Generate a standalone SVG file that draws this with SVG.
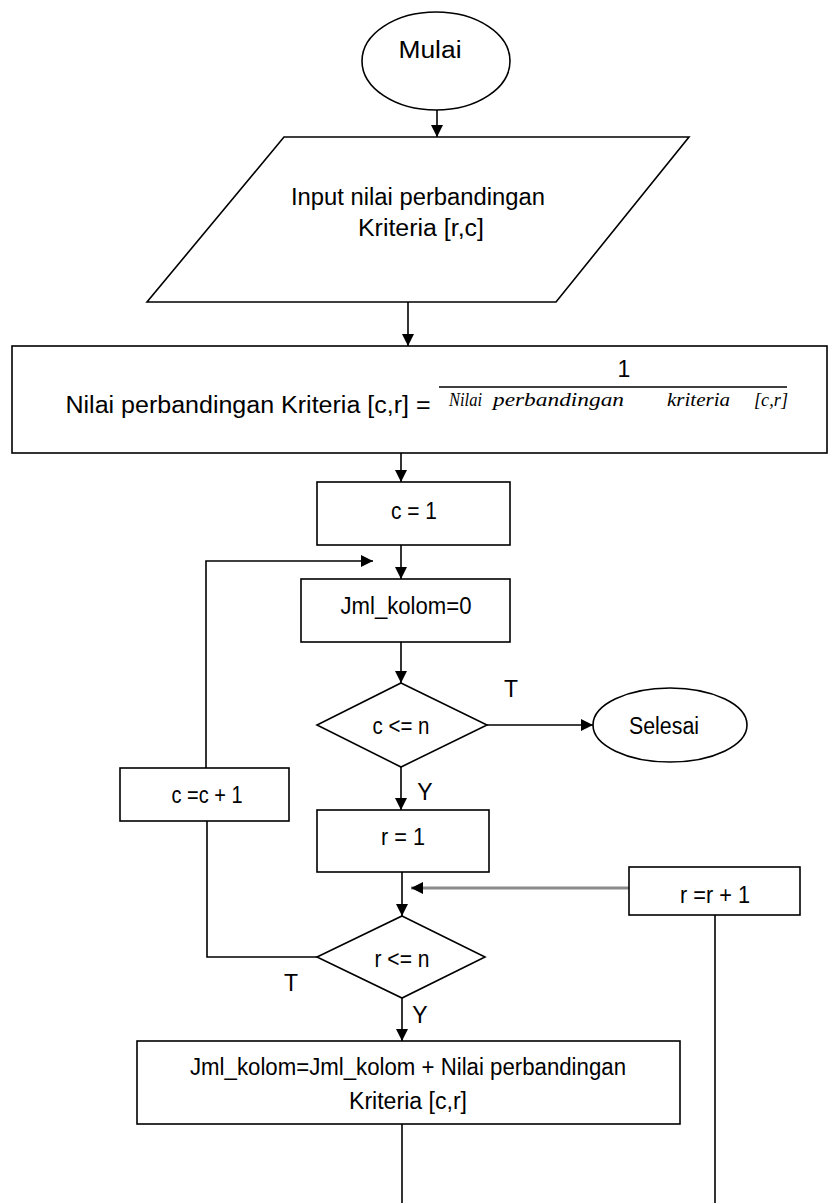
<svg xmlns="http://www.w3.org/2000/svg" width="828" height="1203" viewBox="0 0 828 1203">
<style>
.s{fill:#fff;stroke:#000;stroke-width:1.6}
.t{font-family:"Liberation Sans",Arial,sans-serif;font-size:23px;fill:#000;text-anchor:middle}
.m{font-family:"Liberation Serif","Times New Roman",serif;font-style:italic;font-size:19px;fill:#000}
.c{fill:none;stroke:#000;stroke-width:1.6}
.g{fill:none;stroke:#8a8a8a;stroke-width:3}
</style>
<defs>
<marker id="ah" markerUnits="userSpaceOnUse" markerWidth="12" markerHeight="12" viewBox="0 0 12 12" refX="12" refY="6" orient="auto">
<path d="M0,0 L12,6 L0,12 Z" fill="#000"/>
</marker>
</defs>
<rect width="828" height="1203" fill="#fff"/>
<g id="connectors">
<line class="c" x1="437" y1="110" x2="437" y2="137" marker-end="url(#ah)"/>
<line class="c" x1="408" y1="302" x2="408" y2="346" marker-end="url(#ah)"/>
<line class="c" x1="401" y1="453" x2="401" y2="482" marker-end="url(#ah)"/>
<line class="c" x1="401" y1="545" x2="401" y2="579" marker-end="url(#ah)"/>
<polyline class="c" points="206,768 206,561 373,561" marker-end="url(#ah)"/>
<line class="c" x1="401" y1="642" x2="401" y2="683" marker-end="url(#ah)"/>
<line class="c" x1="487" y1="725" x2="593" y2="725" marker-end="url(#ah)"/>
<line class="c" x1="401" y1="767" x2="401" y2="810" marker-end="url(#ah)"/>
<line class="c" x1="402" y1="872" x2="402" y2="916" marker-end="url(#ah)"/>
<line class="g" x1="629" y1="888" x2="411" y2="888" marker-end="url(#ah)"/>
<polyline class="c" points="317,957 207,957 207,821"/>
<line class="c" x1="402" y1="998" x2="402" y2="1041" marker-end="url(#ah)"/>
<line class="c" x1="402" y1="1124" x2="402" y2="1203"/>
<line class="c" x1="715" y1="915" x2="715" y2="1203"/>
</g>
<g id="mulai">
<ellipse class="s" cx="436" cy="61" rx="74" ry="49"/>
<text class="t" x="430" y="58" font-size="24" textLength="63" lengthAdjust="spacingAndGlyphs">Mulai</text>
</g>
<g id="input">
<polygon class="s" stroke-width="2" points="284,137 689,137 556,302 147,302"/>
<text class="t" x="418" y="205" textLength="254" lengthAdjust="spacingAndGlyphs">Input nilai perbandingan</text>
<text class="t" x="421" y="236" textLength="126" lengthAdjust="spacingAndGlyphs">Kriteria [r,c]</text>
</g>
<g id="formula">
<rect class="s" x="12" y="346" width="815" height="107"/>
<text class="t" x="248" y="413" textLength="365" lengthAdjust="spacingAndGlyphs">Nilai perbandingan Kriteria [c,r] =</text>
<text class="t" x="624" y="377" font-size="19">1</text>
<line x1="439" y1="387" x2="787" y2="387" stroke="#000" stroke-width="1.5"/>
<text class="m" y="406"><tspan x="449" textLength="33" lengthAdjust="spacingAndGlyphs">Nilai</tspan> <tspan x="493" textLength="131" lengthAdjust="spacingAndGlyphs">perbandingan</tspan> <tspan x="667" textLength="63" lengthAdjust="spacingAndGlyphs">kriteria</tspan> <tspan x="754" textLength="34" lengthAdjust="spacingAndGlyphs">[c,r]</tspan></text>
</g>
<g id="c1">
<rect class="s" x="317" y="482" width="193" height="63"/>
<text class="t" x="414" y="519" textLength="46" lengthAdjust="spacingAndGlyphs">c = 1</text>
</g>
<g id="jml0">
<rect class="s" x="301" y="579" width="209" height="63"/>
<text class="t" x="406" y="614" textLength="131" lengthAdjust="spacingAndGlyphs">Jml_kolom=0</text>
</g>
<g id="dec-c">
<polygon class="s" points="401,683 487,725 401,767 317,725"/>
<text class="t" x="401" y="734" textLength="57" lengthAdjust="spacingAndGlyphs">c &lt;= n</text>
<text class="t" x="511" y="697">T</text>
<text class="t" x="425" y="800">Y</text>
</g>
<g id="selesai">
<ellipse class="s" cx="670" cy="725" rx="77" ry="37"/>
<text class="t" x="664" y="734" textLength="70" lengthAdjust="spacingAndGlyphs">Selesai</text>
</g>
<g id="cinc">
<rect class="s" x="120" y="768" width="169" height="53"/>
<text class="t" x="207" y="803" textLength="71" lengthAdjust="spacingAndGlyphs">c =c + 1</text>
</g>
<g id="r1">
<rect class="s" x="317" y="810" width="172" height="62"/>
<text class="t" x="403" y="845" textLength="44" lengthAdjust="spacingAndGlyphs">r = 1</text>
</g>
<g id="rinc">
<rect class="s" x="629" y="867" width="171" height="48"/>
<text class="t" x="715" y="903" textLength="70" lengthAdjust="spacingAndGlyphs">r =r + 1</text>
</g>
<g id="dec-r">
<polygon class="s" points="402,916 485,957 402,998 317,957"/>
<text class="t" x="402" y="967" textLength="55" lengthAdjust="spacingAndGlyphs">r &lt;= n</text>
<text class="t" x="291" y="991">T</text>
<text class="t" x="420" y="1023">Y</text>
</g>
<g id="sum">
<rect class="s" x="137" y="1041" width="543" height="83"/>
<text class="t" x="408" y="1075" textLength="436" lengthAdjust="spacingAndGlyphs">Jml_kolom=Jml_kolom + Nilai perbandingan</text>
<text class="t" x="408" y="1109" textLength="118" lengthAdjust="spacingAndGlyphs">Kriteria [c,r]</text>
</g>
</svg>
